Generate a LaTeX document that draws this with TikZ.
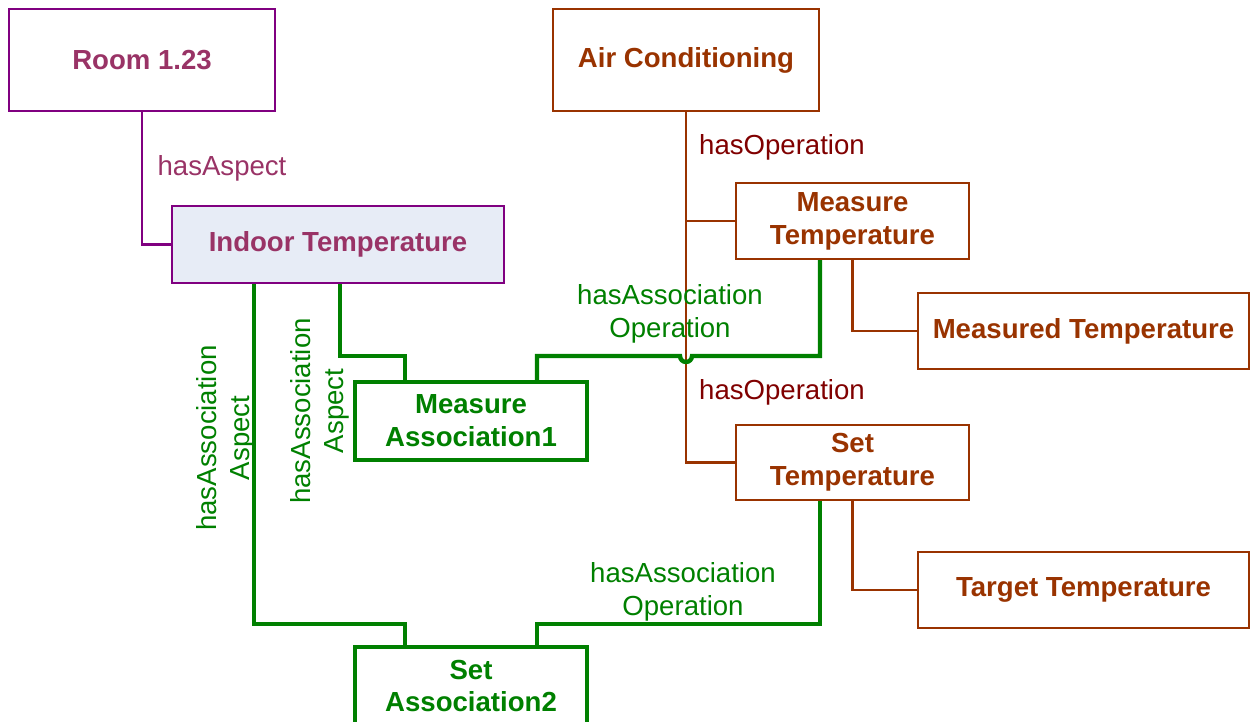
\documentclass[tikz,border=0pt]{standalone}
\usepackage{fontspec}
\setmainfont{Liberation Sans}
\definecolor{purp}{HTML}{800080}
\definecolor{rosetxt}{HTML}{993366}
\definecolor{brn}{HTML}{993300}
\definecolor{maroon}{HTML}{800000}
\definecolor{grn}{HTML}{008000}
\definecolor{indoorfill}{HTML}{E7ECF6}
\begin{document}
\begin{tikzpicture}[x=0.02cm,y=-0.02cm,
  every node/.style={font=\fontsize{15.7}{18.7}\selectfont, inner sep=0pt, align=center},
  pbox/.style={draw=purp, line width=1.4pt, rectangle, text=rosetxt, font=\fontsize{15.7}{18.7}\selectfont\bfseries},
  bbox/.style={draw=brn, line width=1.4pt, rectangle, text=brn, font=\fontsize{15.7}{18.7}\selectfont\bfseries},
  gbox/.style={draw=grn, line width=2.5pt, rectangle, text=grn, font=\fontsize{15.7}{18.7}\selectfont\bfseries},
  pline/.style={draw=purp, line width=1.4pt},
  bline/.style={draw=brn, line width=1.4pt},
  gline/.style={draw=grn, line width=2.5pt},
  plabel/.style={text=rosetxt},
  blabel/.style={text=maroon},
  glabel/.style={text=grn}]
\useasboundingbox (0,0) rectangle (1250,722);
% boxes
\node[pbox, minimum width=5.32cm, minimum height=2.04cm] (room) at (142,60) {Room 1.23};
\node[bbox, minimum width=5.32cm, minimum height=2.04cm] (ac) at (686,60) {Air Conditioning};
\node[pbox, fill=indoorfill, minimum width=6.64cm, minimum height=1.54cm] (indoor) at (338,244.5) {Indoor Temperature};
\node[bbox, minimum width=4.66cm, minimum height=1.52cm] (meastemp) at (852.5,221) {Measure\\Temperature};
\node[bbox, minimum width=6.62cm, minimum height=1.52cm] (measured) at (1083.5,331) {Measured Temperature};
\node[bbox, minimum width=4.66cm, minimum height=1.50cm] (settemp) at (852.5,462.5) {Set\\Temperature};
\node[bbox, minimum width=6.62cm, minimum height=1.52cm] (target) at (1083.5,590) {Target Temperature};
\node[gbox, minimum width=4.64cm, minimum height=1.56cm] (ma1) at (471,421) {Measure\\Association1};
\node[gbox, minimum width=4.64cm, minimum height=1.56cm] (sa2) at (471,686) {Set\\Association2};
% purple connector
\draw[pline] (room.south) |- (indoor.west);
% brown connectors
\draw[bline] (ac.south) |- (meastemp.west);
\draw[bline] (ac.south) |- (settemp.west);
\draw[bline] (meastemp.south) |- (measured.west);
\draw[bline] (settemp.south) |- (target.west);
% green connectors
\coordinate (ia) at ([shift={(2,0)}]indoor.south);
\coordinate (ib) at ([shift={(83,0)}]indoor.south west);
\coordinate (mtg) at ([shift={(-32.5,0)}]meastemp.south);
\coordinate (stg) at ([shift={(-32.5,0)}]settemp.south);
\coordinate (m1l) at ([shift={(-66,0)}]ma1.north);
\coordinate (m1r) at ([shift={(66,0)}]ma1.north);
\coordinate (s2l) at ([shift={(-66,0)}]sa2.north);
\coordinate (s2r) at ([shift={(66,0)}]sa2.north);
\draw[gline] (ia) -- (ia |- 0,356) -| (m1l);
\draw[gline] (mtg) -- (mtg |- 0,356) -- ([shift={(6,0)}]ac.south |- 0,356) arc[start angle=0, end angle=-180, radius=0.12cm] -- (m1r |- 0,356) -- (m1r);
\draw[gline] (ib) -- (ib |- 0,624) -| (s2l);
\draw[gline] (stg) -- (stg |- 0,624) -| (s2r);
% labels
\node[plabel] (l1) at (222,168) {hasAspect};
\node[blabel] (l2) at (782,147.5) {hasOperation};
\node[blabel] (l3) at (782,392.5) {hasOperation};
\node[glabel] (l4) at (670,314) {hasAssociation\\Operation};
\node[glabel] (l5) at (683,592) {hasAssociation\\Operation};
\node[glabel, rotate=90] (l6) at (226,438) {hasAssociation\\Aspect};
\node[glabel, rotate=90] (l7) at (320,411) {hasAssociation\\Aspect};
\end{tikzpicture}
\end{document}
